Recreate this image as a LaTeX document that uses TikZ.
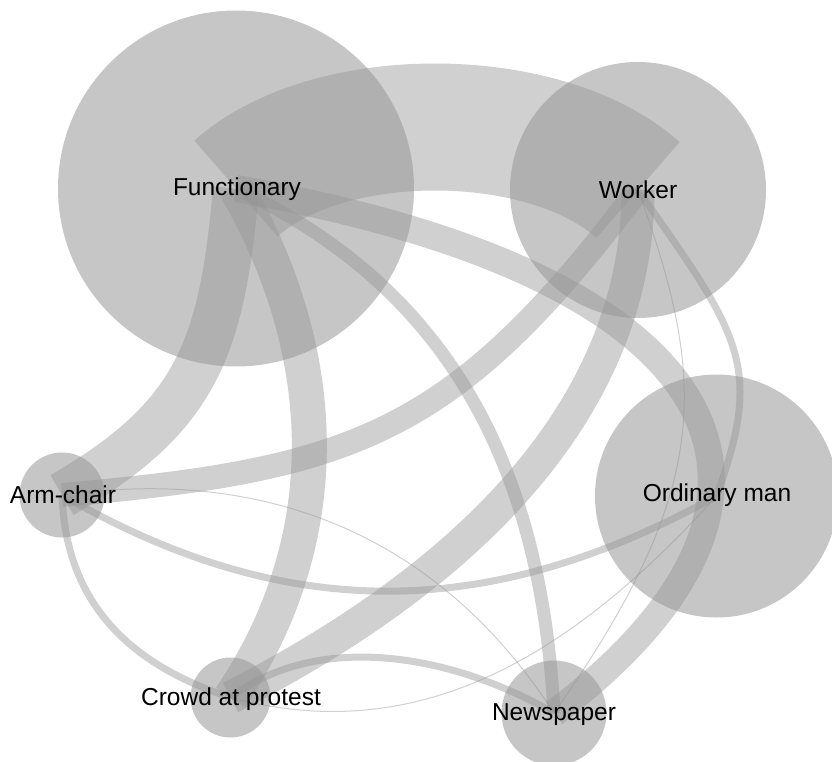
\documentclass[tikz,border=0pt]{standalone}
\usepackage{fontspec}
\setmainfont{Liberation Sans}
\definecolor{nodegray}{RGB}{198,198,198}
\definecolor{bandgray}{RGB}{150,150,150}
\begin{document}
\begin{tikzpicture}[x=1pt,y=-1pt,
  vertex/.style={circle,fill=nodegray,draw=none,inner sep=0pt},
  band/.style={draw=bandgray,draw opacity=0.45,line cap=butt},
  lab/.style={anchor=base,inner sep=0pt,font=\fontsize{24.5}{29}\selectfont}]
\useasboundingbox (0,0) rectangle (832,762);
% nodes (circles)
\node[vertex,minimum size=356pt] (F) at (236,188.5) {};
\node[vertex,minimum size=256pt] (W) at (638,190) {};
\node[vertex,minimum size=243pt] (O) at (716.5,496) {};
\node[vertex,minimum size=85pt]  (A) at (62,495) {};
\node[vertex,minimum size=80pt]  (C) at (230.5,697.5) {};
\node[vertex,minimum size=105pt] (N) at (554,713) {};
% edges
\draw[band,line width=127pt] (F.center) .. controls +(-42:124) and +(-138:124) .. (W.center);
\draw[band,line width=27pt]  (F.center) .. controls +(10:520) and +(-37:350) .. (N.center);
\draw[band,line width=13pt]  (F.center) .. controls +(25:259) and +(-93:215) .. (N.center);
\draw[band,line width=46pt]  (F.center) .. controls +(95:160) and +(-30:156) .. (A.center);
\draw[band,line width=35pt]  (F.center) .. controls +(60:191) and +(-56:192) .. (C.center);
\draw[band,line width=24pt]  (A.center) .. controls +(-5:293) and +(127:307) .. (W.center);
\draw[band,line width=33pt]  (W.center) .. controls +(90:210) and +(-27:280) .. (C.center);
\draw[band,line width=7pt]   (A.center) .. controls +(30:260) and +(151:258) .. (O.center);
\draw[band,line width=7pt]   (W.center) .. controls +(55:177) and +(-70:140) .. (O.center);
\draw[band,line width=1pt]   (W.center) .. controls +(70:208) and +(-55:273) .. (N.center);
\draw[band,line width=1pt]   (A.center) .. controls +(-8:203) and +(-123:215) .. (N.center);
\draw[band,line width=7pt]   (A.center) .. controls +(88:105) and +(-162:110) .. (C.center);
\draw[band,line width=7pt]   (C.center) .. controls +(-37:113) and +(-150:114) .. (N.center);
\draw[band,line width=1pt]   (C.center) .. controls +(15:182) and +(132:236) .. (O.center);
% labels
\node[lab] (Flab) at (237,196) {Functionary};
\node[lab] (Wlab) at (638,199) {Worker};
\node[lab] (Olab) at (717,501) {Ordinary man};
\node[lab] (Alab) at (63,503.5) {Arm-chair};
\node[lab] (Clab) at (231,705.5) {Crowd at protest};
\node[lab] (Nlab) at (554,720.5) {Newspaper};
\end{tikzpicture}
\end{document}
